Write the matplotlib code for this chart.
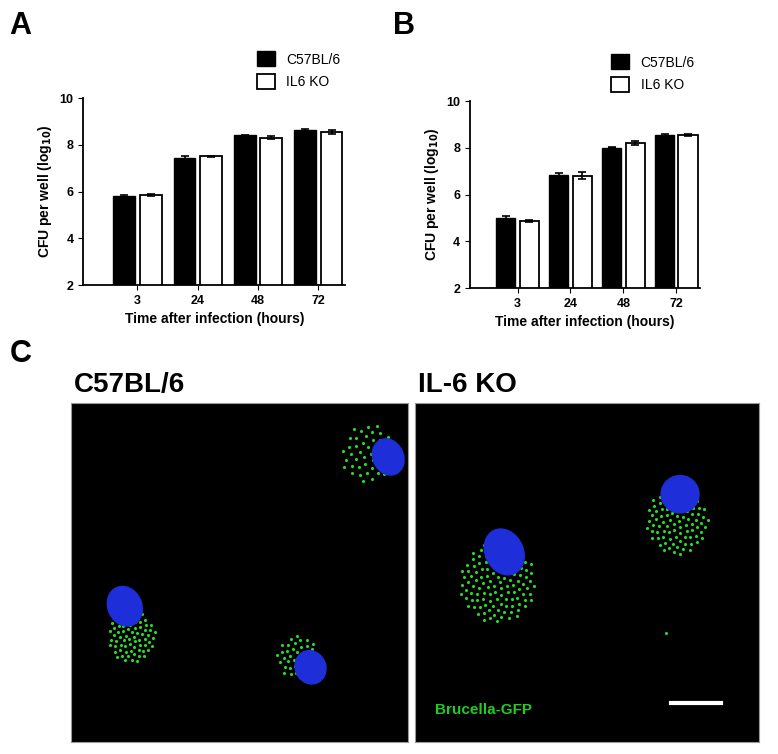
import numpy as np
import matplotlib.pyplot as plt
from matplotlib.patches import Ellipse

plt.rcParams['font.family'] = ['Liberation Sans', 'DejaVu Sans']

times = ['3', '24', '48', '72']
a_c57 = [5.8, 7.45, 8.4, 8.65]
a_c57_err = [0.05, 0.05, 0.03, 0.04]
a_il6 = [5.85, 7.5, 8.3, 8.55]
a_il6_err = [0.06, 0.04, 0.06, 0.07]
b_c57 = [5.0, 6.85, 8.0, 8.55]
b_c57_err = [0.1, 0.05, 0.02, 0.06]
b_il6 = [4.85, 6.8, 8.2, 8.55]
b_il6_err = [0.04, 0.15, 0.07, 0.05]

# microscopy cells: nucleus (x, y, w, h) and green cluster (x, y, radius, n dots), y from top
left_nuclei = [(0.94, 0.16, 0.09, 0.11), (0.16, 0.60, 0.10, 0.12), (0.71, 0.78, 0.09, 0.10)]
left_green = [(0.88, 0.15, 0.08, 45), (0.18, 0.69, 0.07, 70), (0.67, 0.75, 0.06, 40)]
right_nuclei = [(0.26, 0.44, 0.11, 0.14), (0.77, 0.27, 0.11, 0.11)]
right_green = [(0.24, 0.53, 0.11, 120), (0.76, 0.35, 0.09, 90)]


def bar_panel(ax, c57, c57e, il6, il6e):
    x = np.arange(len(times))
    w = 0.36
    ax.bar(x - 0.22, c57, w, yerr=c57e, color='black', edgecolor='black', capsize=3,
           error_kw=dict(lw=1.2, capthick=1.2), label='C57BL/6')
    ax.bar(x + 0.22, il6, w, yerr=il6e, color='white', edgecolor='black', lw=1.3, capsize=3,
           error_kw=dict(lw=1.2, capthick=1.2), label='IL6 KO')
    ax.set_ylim(2, 10)
    ax.set_yticks([2, 4, 6, 8, 10])
    ax.set_xlim(-0.9, 3.45)
    ax.set_xticks(x)
    ax.set_xticklabels(times, fontweight='bold', fontsize=9)
    for t in ax.get_yticklabels():
        t.set_fontweight('bold')
        t.set_fontsize(9)
    ax.spines['top'].set_visible(False)
    ax.spines['right'].set_visible(False)
    ax.spines['left'].set_linewidth(1.3)
    ax.spines['bottom'].set_linewidth(1.3)
    ax.set_ylabel('CFU per well (log$_{\\mathbf{10}}$)', fontweight='bold', fontsize=10)
    ax.set_xlabel('Time after infection (hours)', fontweight='bold', fontsize=10)
    ax.legend(loc='lower right', bbox_to_anchor=(1.0, 1.02), frameon=False, fontsize=10,
              handlelength=1.3, handleheight=1.3, borderaxespad=0)


def cell_panel(ax, nuclei, green):
    ax.set_facecolor('black')
    ax.set_xlim(0, 1)
    ax.set_ylim(1, 0)
    ax.set_xticks([])
    ax.set_yticks([])
    golden = np.pi * (3 - np.sqrt(5))
    for cx, cy, r, n in green:
        k = np.arange(n)
        rr = r * np.sqrt((k + 0.5) / n)
        ang = k * golden
        ax.scatter(cx + rr * np.cos(ang), cy + rr * np.sin(ang) * 1.1, s=5, color='#22dd22',
                   marker='o', lw=0, zorder=2)
    for nx, ny, nw, nh in nuclei:
        ax.add_patch(Ellipse((nx, ny), nw, nh, angle=-25, color='#1e2ed8', zorder=3))
    for s in ax.spines.values():
        s.set_color('#999999')


fig = plt.figure(figsize=(7.78, 7.54), dpi=100)
axA = fig.add_axes([0.107, 0.622, 0.337, 0.248])
axB = fig.add_axes([0.604, 0.618, 0.296, 0.248])
bar_panel(axA, a_c57, a_c57_err, a_il6, a_il6_err)
bar_panel(axB, b_c57, b_c57_err, b_il6, b_il6_err)

axL = fig.add_axes([0.091, 0.016, 0.434, 0.45])
axR = fig.add_axes([0.533, 0.016, 0.443, 0.45])
cell_panel(axL, left_nuclei, left_green)
cell_panel(axR, right_nuclei, right_green)
axR.scatter([0.73], [0.68], s=5, color='#22dd22', lw=0)
axR.text(0.06, 0.905, 'Brucella-GFP', color='#22cc22', fontsize=11, fontweight='bold',
         va='center')
axR.plot([0.745, 0.89], [0.885, 0.885], color='white', lw=3)

fig.text(0.012, 0.955, 'A', fontsize=22, fontweight='bold')
fig.text(0.505, 0.955, 'B', fontsize=22, fontweight='bold')
fig.text(0.012, 0.52, 'C', fontsize=22, fontweight='bold')
fig.text(0.095, 0.48, 'C57BL/6', fontsize=20, fontweight='bold')
fig.text(0.537, 0.48, 'IL-6 KO', fontsize=20, fontweight='bold')

fig.savefig('out.png', dpi=100)
